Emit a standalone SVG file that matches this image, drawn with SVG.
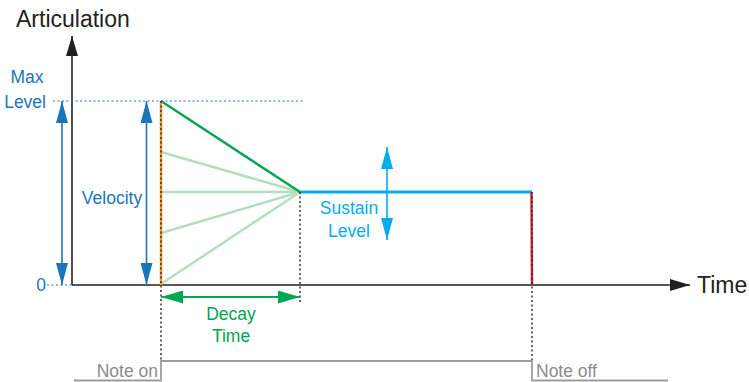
<svg xmlns="http://www.w3.org/2000/svg" width="749" height="382" viewBox="0 0 749 382">
  <style>
    text { font-family: "Liberation Sans", Arial, sans-serif; }
    .axis-label { font-size: 23px; fill: #231f20; }
    .blue-label { font-size: 17.5px; fill: #1b75bc; }
    .cyan-label { font-size: 17.5px; fill: #00aeef; }
    .green-label { font-size: 17.5px; fill: #00a651; }
    .gray-label { font-size: 17.5px; fill: #8c8c8c; }
    .axis { stroke: #231f20; stroke-width: 1.6; fill: none; }
    .guide { stroke: #333; stroke-width: 1.5; stroke-dasharray: 2 2.5; fill: none; }
    .guide-blue { stroke: #1b75bc; stroke-width: 1.1; stroke-dasharray: 2 2.5; fill: none; }
    .fan { stroke: #b3dfbf; stroke-width: 2.5; fill: none; }
  </style>
  <defs>
    <marker id="head-black" markerUnits="userSpaceOnUse" markerWidth="20" markerHeight="12" refX="20" refY="6" orient="auto-start-reverse">
      <path d="M0,0 L20,6 L0,12 z" fill="#231f20"/>
    </marker>
    <marker id="head-blue" markerUnits="userSpaceOnUse" markerWidth="22" markerHeight="12" refX="22" refY="6" orient="auto-start-reverse">
      <path d="M0,0 L22,6 L0,12 z" fill="#1b75bc"/>
    </marker>
    <marker id="head-cyan" markerUnits="userSpaceOnUse" markerWidth="22" markerHeight="12" refX="22" refY="6" orient="auto-start-reverse">
      <path d="M0,0 L22,6 L0,12 z" fill="#00aeef"/>
    </marker>
    <marker id="head-green" markerUnits="userSpaceOnUse" markerWidth="22" markerHeight="13" refX="22" refY="6.5" orient="auto-start-reverse">
      <path d="M0,0 L22,6.5 L0,13 z" fill="#00a651"/>
    </marker>
  </defs>

  <!-- axes -->
  <g id="axes">
    <line class="axis" x1="72" y1="285" x2="72" y2="36" marker-end="url(#head-black)"/>
    <line class="axis" x1="72" y1="285" x2="690" y2="285" marker-end="url(#head-black)"/>
    <text class="axis-label" x="16" y="27">Articulation</text>
    <text class="axis-label" x="697" y="293">Time</text>
  </g>

  <!-- level reference marks -->
  <g id="levels">
    <line class="guide-blue" x1="53" y1="101" x2="305" y2="101"/>
    <line class="guide-blue" x1="47" y1="285" x2="72" y2="285"/>
    <text class="blue-label" x="27" y="83" text-anchor="middle">Max</text>
    <text class="blue-label" x="46" y="108" text-anchor="end">Level</text>
    <text class="blue-label" x="46" y="291" text-anchor="end">0</text>
  </g>

  <!-- envelope curves -->
  <g id="envelope">
    <line class="fan" x1="161" y1="152" x2="300" y2="192"/>
    <line class="fan" x1="161" y1="192" x2="300" y2="192"/>
    <line class="fan" x1="161" y1="233" x2="300" y2="192"/>
    <line class="fan" x1="161" y1="284" x2="300" y2="192"/>
    <line x1="161" y1="101" x2="300" y2="192" stroke="#00a651" stroke-width="2.5"/>
    <line x1="300" y1="192" x2="532" y2="192" stroke="#00aeef" stroke-width="3"/>
    <line x1="161" y1="101" x2="161" y2="285" stroke="#f7941d" stroke-width="2.5"/>
    <line x1="531.5" y1="192" x2="532" y2="285" stroke="#d2232a" stroke-width="2.5"/>
  </g>

  <!-- timing guides -->
  <g id="guides">
    <line class="guide" x1="161" y1="101" x2="161" y2="361"/>
    <line class="guide" x1="300" y1="192" x2="300" y2="304"/>
    <line class="guide" x1="532" y1="192" x2="532" y2="361"/>
  </g>

  <!-- dimension arrows -->
  <g id="connectors">
    <line x1="62" y1="101" x2="62" y2="285" stroke="#1b75bc" stroke-width="1.6" marker-start="url(#head-blue)" marker-end="url(#head-blue)"/>
    <line x1="146.5" y1="101" x2="146.5" y2="285" stroke="#1b75bc" stroke-width="1.6" marker-start="url(#head-blue)" marker-end="url(#head-blue)"/>
    <line x1="387" y1="147" x2="387" y2="240" stroke="#00aeef" stroke-width="1.6" marker-start="url(#head-cyan)" marker-end="url(#head-cyan)"/>
    <line x1="161" y1="297" x2="300" y2="297" stroke="#00a651" stroke-width="1.8" marker-start="url(#head-green)" marker-end="url(#head-green)"/>
  </g>

  <g id="velocity">
    <text class="blue-label" x="112" y="204" text-anchor="middle">Velocity</text>
  </g>

  <g id="sustain">
    <text class="cyan-label" x="349" y="214" text-anchor="middle">Sustain</text>
    <text class="cyan-label" x="349" y="237" text-anchor="middle">Level</text>
  </g>

  <g id="decay">
    <text class="green-label" x="231" y="320" text-anchor="middle">Decay</text>
    <text class="green-label" x="231" y="342" text-anchor="middle">Time</text>
  </g>

  <!-- gate signal -->
  <g id="gate">
    <polyline points="74,380.5 161,380.5 161,361 532,361 532,380.5 668,380.5" fill="none" stroke="#9d9d9d" stroke-width="1.8"/>
    <text class="gray-label" x="158" y="377" text-anchor="end">Note on</text>
    <text class="gray-label" x="536" y="377">Note off</text>
  </g>
</svg>
